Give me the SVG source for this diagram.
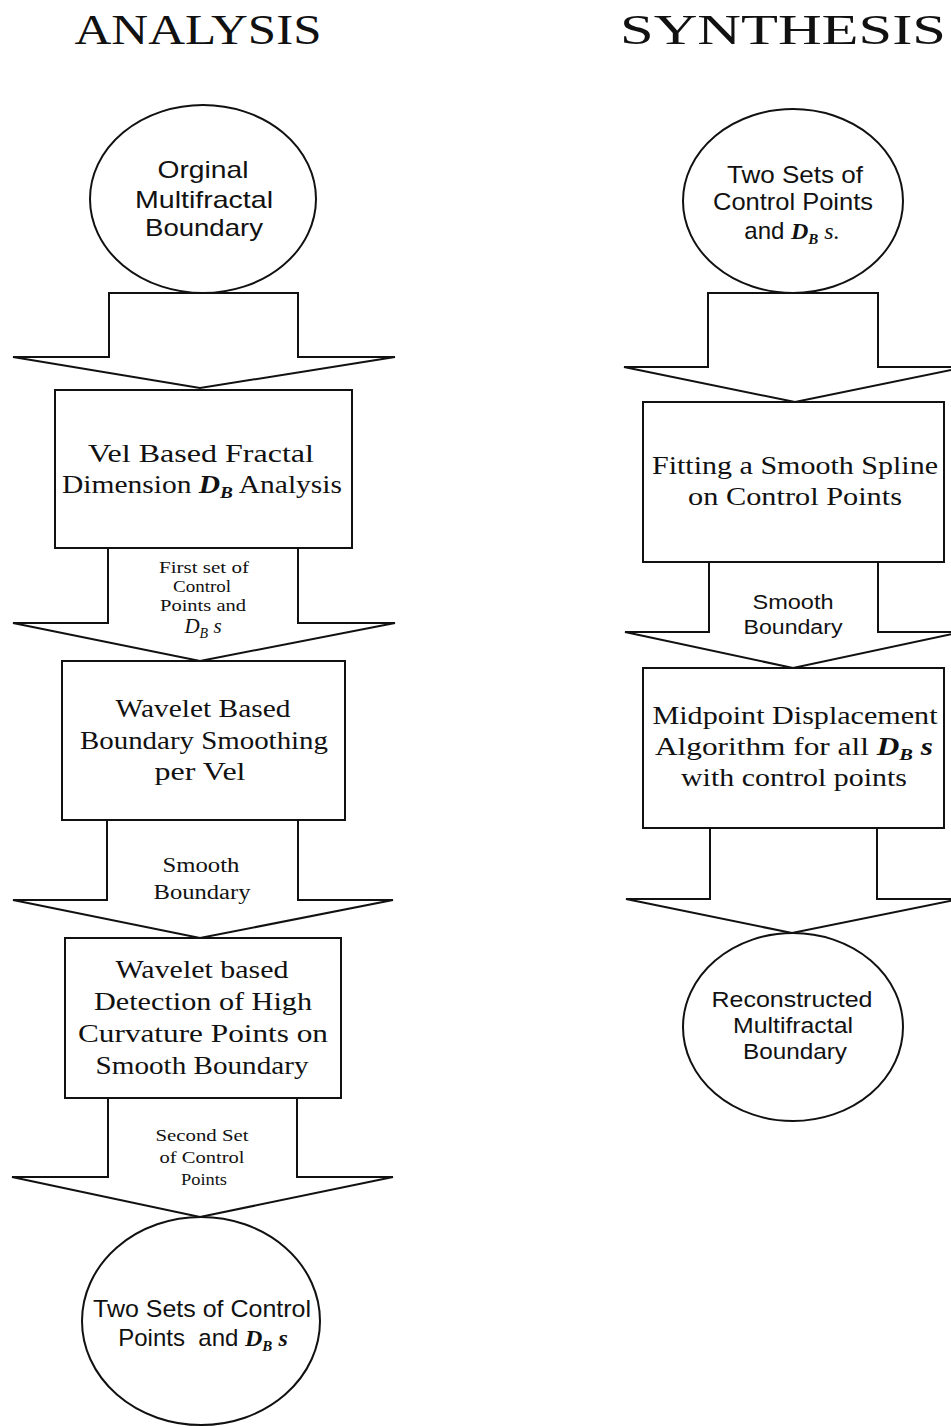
<svg xmlns="http://www.w3.org/2000/svg" width="951" height="1426" viewBox="0 0 951 1426">
<style>
.sh{fill:#fff;stroke:#111;stroke-width:2;stroke-linejoin:miter}
.s{font-family:"Liberation Sans",Arial,sans-serif;fill:#111;text-anchor:middle}
.r{font-family:"Liberation Serif","Times New Roman",serif;fill:#111;text-anchor:middle}
.d{font-family:"Liberation Serif","Times New Roman",serif;font-weight:bold;font-style:italic}
.t{font-size:42px}
.e{font-size:24px}
.b{font-size:26px}
.l{font-size:17px}
.m{font-size:20px}
</style>
<rect width="951" height="1426" fill="#fff"/>
<g id="titles">
<text class="r t" x="198" y="44" textLength="247" lengthAdjust="spacingAndGlyphs">ANALYSIS</text>
<text class="r t" x="783" y="44" textLength="326" lengthAdjust="spacingAndGlyphs">SYNTHESIS</text>
</g>
<g id="connectors">
<polygon class="sh" points="109,293 298,293 298,357 395,357 200,388 13,357 109,357"/>
<polygon class="sh" points="108,548 298,548 298,623 395,623 200,661 13,623 108,623"/>
<polygon class="sh" points="107,820 298,820 298,900 393,900 200,938 13,900 107,900"/>
<polygon class="sh" points="108,1098 297,1098 297,1177 393,1177 200,1217 12,1177 108,1177"/>
<polygon class="sh" points="708,293 878,293 878,367 966,367 795,402 624,367 708,367"/>
<polygon class="sh" points="709,562 878,562 878,632 962,632 793,668 625,632 709,632"/>
<polygon class="sh" points="710,828 877,828 877,899 960,899 792,933 626,899 710,899"/>
</g>
<g id="n1">
<ellipse class="sh" cx="203" cy="199" rx="113" ry="94"/>
<text class="s e" x="203" y="178" textLength="91" lengthAdjust="spacingAndGlyphs">Orginal</text>
<text class="s e" x="204" y="208" textLength="138" lengthAdjust="spacingAndGlyphs">Multifractal</text>
<text class="s e" x="204" y="236" textLength="118" lengthAdjust="spacingAndGlyphs">Boundary</text>
</g>
<g id="n2">
<rect class="sh" x="55" y="390" width="297" height="158"/>
<text class="r b" x="201" y="462" textLength="226" lengthAdjust="spacingAndGlyphs">Vel  Based  Fractal</text>
<text class="r b" x="202" y="493" textLength="280" lengthAdjust="spacingAndGlyphs">Dimension <tspan class="d">D</tspan><tspan class="d" font-size="17" dy="5">B</tspan><tspan dy="-5"> Analysis</tspan></text>
</g>
<g id="l1">
<text class="r l" x="204" y="573" textLength="90" lengthAdjust="spacingAndGlyphs">First set of</text>
<text class="r l" x="202" y="592" textLength="58" lengthAdjust="spacingAndGlyphs">Control</text>
<text class="r l" x="203" y="611" textLength="86" lengthAdjust="spacingAndGlyphs">Points and</text>
<text class="r" x="203" y="633" font-size="21"><tspan font-style="italic">D</tspan><tspan font-style="italic" font-size="14" dy="5">B</tspan><tspan dy="-5" font-style="italic"> s</tspan></text>
</g>
<g id="n3">
<rect class="sh" x="62" y="661" width="283" height="159"/>
<text class="r b" x="203" y="717" textLength="175" lengthAdjust="spacingAndGlyphs">Wavelet Based</text>
<text class="r b" x="204" y="749" textLength="248" lengthAdjust="spacingAndGlyphs">Boundary Smoothing</text>
<text class="r b" x="200" y="780" textLength="91" lengthAdjust="spacingAndGlyphs">per Vel</text>
</g>
<g id="l2">
<text class="r m" x="201" y="872" textLength="77" lengthAdjust="spacingAndGlyphs">Smooth</text>
<text class="r m" x="202" y="899" textLength="97" lengthAdjust="spacingAndGlyphs">Boundary</text>
</g>
<g id="n4">
<rect class="sh" x="65" y="938" width="276" height="160"/>
<text class="r b" x="202" y="978" textLength="173" lengthAdjust="spacingAndGlyphs">Wavelet based</text>
<text class="r b" x="203" y="1010" textLength="218" lengthAdjust="spacingAndGlyphs">Detection of  High</text>
<text class="r b" x="203" y="1042" textLength="250" lengthAdjust="spacingAndGlyphs">Curvature Points on</text>
<text class="r b" x="202" y="1074" textLength="213" lengthAdjust="spacingAndGlyphs">Smooth Boundary</text>
</g>
<g id="l3">
<text class="r l" x="202" y="1141" textLength="93" lengthAdjust="spacingAndGlyphs">Second Set</text>
<text class="r l" x="202" y="1163" textLength="85" lengthAdjust="spacingAndGlyphs">of Control</text>
<text class="r l" x="204" y="1185" textLength="46" lengthAdjust="spacingAndGlyphs">Points</text>
</g>
<g id="n5">
<ellipse class="sh" cx="201" cy="1321" rx="119" ry="104"/>
<text class="s e" x="202" y="1317" textLength="218" lengthAdjust="spacingAndGlyphs">Two Sets of Control</text>
<text class="s e" x="203" y="1346">Points&#160; and <tspan class="d">D</tspan><tspan class="d" font-size="15" dy="5">B</tspan><tspan class="d" dy="-5"> s</tspan></text>
</g>
<g id="n6">
<ellipse class="sh" cx="793" cy="201" rx="110" ry="92"/>
<text class="s e" x="795" y="183" textLength="136" lengthAdjust="spacingAndGlyphs">Two Sets of</text>
<text class="s e" x="793" y="210" textLength="160" lengthAdjust="spacingAndGlyphs">Control Points</text>
<text class="s e" x="792" y="239">and <tspan class="d">D</tspan><tspan class="d" font-size="15" dy="5">B</tspan><tspan class="r" font-style="italic" dy="-5"> s.</tspan></text>
</g>
<g id="n7">
<rect class="sh" x="643" y="402" width="301" height="160"/>
<text class="r b" x="795" y="474" textLength="286" lengthAdjust="spacingAndGlyphs">Fitting a Smooth Spline</text>
<text class="r b" x="795" y="505" textLength="214" lengthAdjust="spacingAndGlyphs">on Control Points</text>
</g>
<g id="l4">
<text class="s m" x="793" y="609" textLength="81" lengthAdjust="spacingAndGlyphs">Smooth</text>
<text class="s m" x="793" y="634" textLength="99" lengthAdjust="spacingAndGlyphs">Boundary</text>
</g>
<g id="n8">
<rect class="sh" x="643" y="668" width="301" height="160"/>
<text class="r b" x="795" y="724" textLength="285" lengthAdjust="spacingAndGlyphs">Midpoint Displacement</text>
<text class="r b" x="794" y="755" textLength="278" lengthAdjust="spacingAndGlyphs">Algorithm for all <tspan class="d">D</tspan><tspan class="d" font-size="17" dy="5">B</tspan><tspan class="d" dy="-5"> s</tspan></text>
<text class="r b" x="794" y="786" textLength="226" lengthAdjust="spacingAndGlyphs">with control points</text>
</g>
<g id="n9">
<ellipse class="sh" cx="793" cy="1027" rx="110" ry="94"/>
<text class="s" x="792" y="1007" style="font-size:22px" textLength="161" lengthAdjust="spacingAndGlyphs">Reconstructed</text>
<text class="s" x="793" y="1033" style="font-size:22px" textLength="120" lengthAdjust="spacingAndGlyphs">Multifractal</text>
<text class="s" x="795" y="1059" style="font-size:22px" textLength="104" lengthAdjust="spacingAndGlyphs">Boundary</text>
</g>
</svg>
